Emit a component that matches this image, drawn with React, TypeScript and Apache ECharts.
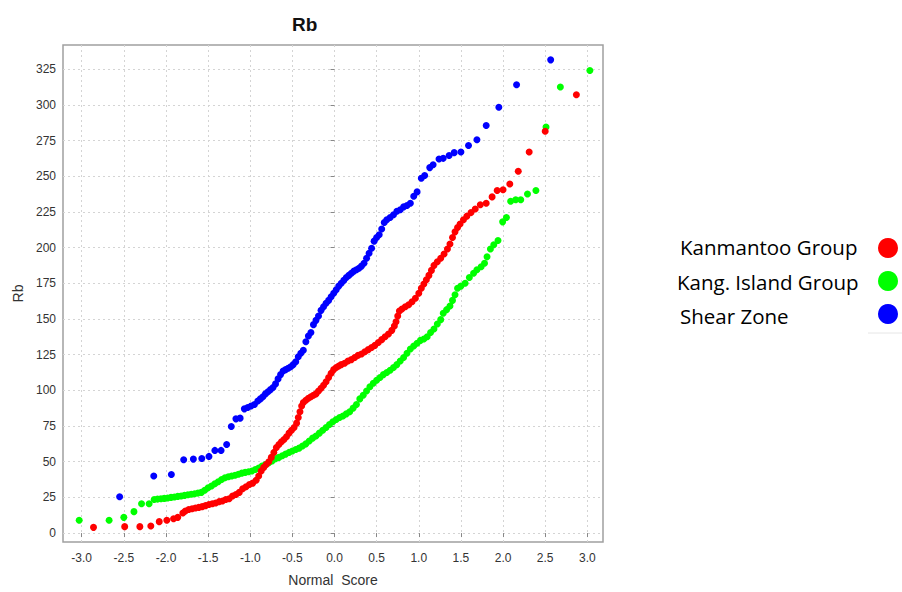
import React, { useEffect, useRef } from "react";
import * as echarts from "echarts";

const seriesNames = ["Kanmantoo Group", "Kang. Island Group", "Shear Zone"];
const seriesColors = ["#ff0000", "#00ff00", "#0000ff"];

const xTicks = [-3, -2.5, -2, -1.5, -1, -0.5, 0, 0.5, 1, 1.5, 2, 2.5, 3];
const yTicks = [0, 25, 50, 75, 100, 125, 150, 175, 200, 225, 250, 275, 300, 325];

// [normal score, Rb]
const kanmantoo: number[][] = [
  [-2.86, 4], [-2.49, 4.5], [-2.31, 4.5], [-2.18, 5], [-2.08, 8], [-1.99, 9], [-1.91, 10], [-1.86, 11],
  [-1.8, 14], [-1.77, 15.5], [-1.73, 16.5], [-1.69, 17], [-1.65, 17.5], [-1.61, 18], [-1.57, 18.5],
  [-1.53, 19.2], [-1.49, 20], [-1.45, 20.5], [-1.41, 21], [-1.37, 22], [-1.33, 22.5], [-1.29, 23.5],
  [-1.25, 24], [-1.21, 26], [-1.17, 27], [-1.13, 28.5], [-1.09, 31], [-1.05, 32.5], [-1.01, 34],
  [-0.97, 35], [-0.93, 37], [-0.9, 40], [-0.87, 43.5], [-0.84, 46], [-0.81, 48], [-0.78, 50],
  [-0.75, 53], [-0.72, 56.5], [-0.69, 60], [-0.66, 62], [-0.63, 64], [-0.6, 65.5], [-0.57, 67.5],
  [-0.54, 70], [-0.51, 72], [-0.48, 74], [-0.45, 77], [-0.43, 81], [-0.41, 85], [-0.39, 89],
  [-0.37, 91.5], [-0.34, 93], [-0.31, 94.5], [-0.28, 95.5], [-0.25, 96.5], [-0.22, 97.5],
  [-0.19, 99.5], [-0.16, 101.5], [-0.13, 103.5], [-0.1, 106], [-0.07, 109], [-0.04, 112],
  [-0.01, 114.5], [0.02, 116], [0.05, 117], [0.08, 118], [0.12, 119], [0.16, 120.5], [0.2, 121.5],
  [0.24, 123], [0.28, 124.5], [0.32, 125.5], [0.36, 127], [0.4, 128.5], [0.44, 130], [0.48, 131.5],
  [0.52, 133.5], [0.56, 135.5], [0.6, 137.5], [0.64, 139.5], [0.68, 142], [0.71, 145], [0.73, 148],
  [0.75, 152], [0.77, 155.5], [0.8, 157], [0.84, 158.5], [0.88, 160], [0.92, 162], [0.96, 164.5],
  [1.0, 168], [1.03, 171.5], [1.06, 174.5], [1.09, 177.5], [1.12, 180.5], [1.15, 184], [1.18, 187.5],
  [1.22, 190], [1.26, 192.5], [1.3, 195.5], [1.34, 199], [1.37, 202.5], [1.4, 207], [1.43, 211],
  [1.46, 214], [1.49, 216.5], [1.53, 219.5], [1.57, 222], [1.62, 224.5], [1.67, 227], [1.73, 230],
  [1.8, 231], [1.87, 235.5], [1.93, 240], [2.0, 240.5], [2.08, 244.5], [2.18, 253.5], [2.31, 267],
  [2.5, 281.5], [2.87, 307],
];

const kangIsland: number[][] = [
  [-3.03, 9], [-2.675, 9], [-2.5, 11], [-2.38, 15], [-2.29, 20.5], [-2.2, 20.5],
  [-2.14, 23.5], [-2.1, 23.8], [-2.06, 24], [-2.02, 24.3], [-1.98, 24.6], [-1.94, 25], [-1.9, 25.3],
  [-1.86, 25.7], [-1.82, 26], [-1.78, 26.4], [-1.74, 26.8], [-1.7, 27.2], [-1.66, 27.6], [-1.62, 28],
  [-1.58, 28.5], [-1.54, 30], [-1.5, 31.8], [-1.46, 33], [-1.42, 34.5], [-1.38, 36], [-1.34, 37.5],
  [-1.3, 38.8], [-1.26, 39.5], [-1.22, 40], [-1.18, 40.5], [-1.14, 41.2], [-1.1, 42], [-1.06, 42.5],
  [-1.02, 43], [-0.98, 43.5], [-0.94, 44.5], [-0.9, 45.5], [-0.86, 47], [-0.82, 48], [-0.78, 49.3],
  [-0.74, 50.5], [-0.7, 52], [-0.66, 53], [-0.62, 54.2], [-0.58, 55.3], [-0.54, 56.5], [-0.5, 57.5],
  [-0.46, 58.5], [-0.42, 59.5], [-0.38, 61], [-0.34, 62.5], [-0.3, 64.5], [-0.26, 66.5], [-0.22, 68],
  [-0.18, 70], [-0.14, 72], [-0.1, 74], [-0.06, 76], [-0.02, 78], [0.02, 79.5], [0.06, 81], [0.1, 82],
  [0.14, 83.5], [0.18, 85], [0.22, 87.5], [0.26, 90], [0.3, 94], [0.34, 96.5], [0.38, 99.5],
  [0.42, 102.5], [0.46, 105], [0.5, 107], [0.54, 109], [0.58, 111], [0.62, 112.5], [0.66, 114],
  [0.7, 116], [0.74, 118], [0.78, 120.5], [0.82, 123], [0.86, 126], [0.9, 129], [0.94, 131],
  [0.98, 133], [1.02, 135], [1.06, 136], [1.1, 137.5], [1.14, 140.5], [1.18, 143], [1.22, 146.5],
  [1.26, 149.5], [1.29, 154], [1.33, 156.5], [1.37, 159], [1.4, 163], [1.43, 167], [1.46, 171.5],
  [1.5, 173], [1.55, 175], [1.6, 179], [1.65, 182], [1.69, 184.5], [1.74, 186.5], [1.78, 189],
  [1.81, 193.5], [1.85, 199], [1.89, 202], [1.94, 205], [1.995, 218], [2.04, 221],
  [2.09, 232.5], [2.15, 233.5], [2.21, 233.5], [2.29, 237.5], [2.39, 240], [2.51, 284.5],
  [2.68, 312.5], [3.03, 324],
];

const shearZone: number[][] = [
  [-2.55, 25.5], [-2.145, 40], [-1.936, 41], [-1.79, 51.3], [-1.675, 51.8], [-1.575, 52.2],
  [-1.49, 53.7], [-1.42, 57.9], [-1.346, 57.9], [-1.28, 62], [-1.225, 74.6], [-1.17, 80],
  [-1.12, 80.5], [-1.07, 87], [-1.03, 88], [-0.99, 89], [-0.95, 90], [-0.91, 92.5], [-0.88, 94],
  [-0.85, 95.5], [-0.82, 97.5], [-0.79, 99], [-0.76, 100.5], [-0.73, 102], [-0.7, 104.5],
  [-0.67, 108], [-0.64, 111], [-0.61, 113.5], [-0.58, 114.5], [-0.55, 115.5], [-0.52, 116.5],
  [-0.49, 118], [-0.46, 120], [-0.43, 123.5], [-0.4, 126], [-0.37, 128], [-0.34, 134], [-0.31, 138],
  [-0.28, 140.5], [-0.25, 146], [-0.22, 149], [-0.19, 152], [-0.16, 156], [-0.13, 158.5],
  [-0.1, 161], [-0.07, 163], [-0.04, 165.5], [-0.01, 168], [0.02, 170.5], [0.05, 173], [0.08, 175],
  [0.11, 177], [0.14, 179], [0.17, 180.5], [0.2, 182], [0.23, 183.5], [0.26, 184.5], [0.29, 185.5],
  [0.32, 187], [0.35, 189], [0.38, 192.5], [0.41, 196], [0.44, 199.5], [0.47, 204.5], [0.5, 207],
  [0.53, 209], [0.56, 213], [0.59, 217.5], [0.62, 219.5], [0.66, 221], [0.7, 223], [0.74, 225.5],
  [0.78, 226.5], [0.82, 228.5], [0.86, 229.5], [0.9, 231], [0.94, 236], [0.98, 239], [1.03, 248.5],
  [1.07, 250.5], [1.13, 256], [1.17, 258], [1.24, 262], [1.29, 262.5], [1.36, 264.5], [1.42, 266.5],
  [1.5, 267], [1.59, 271.5], [1.69, 275.5], [1.8, 285.5], [1.95, 298.3], [2.16, 314], [2.565, 331.5],
];

const seriesData = [kanmantoo, kangIsland, shearZone];

export default function App() {
  const ref = useRef<HTMLDivElement>(null);
  useEffect(() => {
    if (!ref.current) return;
    const chart = echarts.init(ref.current, null, { renderer: "svg" });
    const axisFont = "'Liberation Sans', Arial, sans-serif";
    const legendY = [248, 281, 314];
    const legendTextY = [250, 285, 319];
    const legendTextX = [680, 677, 680];
    const order = [2, 1, 0];
    chart.setOption({
      animation: false,
      backgroundColor: "#ffffff",
      title: {
        text: "Rb",
        left: 287,
        top: 10,
        textStyle: { fontFamily: axisFont, fontSize: 19, fontWeight: "bold", color: "#111" },
      },
      grid: {
        left: 63,
        top: 45,
        width: 540,
        height: 500,
        show: true,
        borderColor: "#a0a0a0",
        borderWidth: 1.5,
        backgroundColor: "transparent",
      },
      xAxis: {
        type: "value",
        min: -3.222,
        max: 3.186,
        name: "Normal  Score",
        nameLocation: "middle",
        nameGap: 31,
        nameTextStyle: { fontFamily: axisFont, fontSize: 14, color: "#333" },
        axisLine: { show: false },
        axisTick: {
          show: true,
          length: 4,
          customValues: xTicks,
          lineStyle: { color: "#888" },
        },
        axisLabel: {
          customValues: xTicks,
          margin: 10,
          fontFamily: axisFont,
          fontSize: 12,
          color: "#333",
          formatter: (v: number) => v.toFixed(1),
        },
        splitLine: { show: true, lineStyle: { color: "#d4d4d4", type: [2, 3], width: 1 } },
      },
      yAxis: {
        type: "value",
        min: -6.26,
        max: 341.9,
        name: "Rb",
        nameLocation: "middle",
        nameGap: 35,
        nameTextStyle: { fontFamily: axisFont, fontSize: 14, color: "#333" },
        axisLine: { show: false },
        axisTick: {
          show: true,
          length: 4,
          customValues: yTicks,
          lineStyle: { color: "#888" },
        },
        axisLabel: {
          customValues: yTicks,
          margin: 7,
          fontFamily: axisFont,
          fontSize: 12,
          color: "#333",
        },
        splitLine: { show: true, lineStyle: { color: "#d4d4d4", type: [2, 3], width: 1 } },
      },
      series: order.map((i) => ({
        type: "scatter",
        name: seriesNames[i],
        data: seriesData[i],
        symbol: "circle",
        symbolSize: 7,
        clip: false,
        itemStyle: { color: seriesColors[i], opacity: 1 },
      })),
      graphic: [
        ...seriesNames.map((n, i) => ({
          type: "text",
          left: legendTextX[i],
          top: legendTextY[i] - 14,
          style: {
            text: n,
            fontFamily: "'Open Sans', sans-serif",
            fontSize: 20.5,
            fill: "#000",
          },
        })),
        ...seriesColors.map((c, i) => ({
          type: "circle",
          shape: { cx: 888, cy: legendY[i], r: 10 },
          style: { fill: c },
        })),
        {
          type: "line",
          shape: { x1: 868, y1: 333, x2: 902, y2: 333 },
          style: { stroke: "#e6e6e6", lineWidth: 1 },
        },
      ],
    });
    return () => chart.dispose();
  }, []);
  return (
    <div
      ref={ref}
      style={{ position: "absolute", left: 0, top: 0, width: 902, height: 592, background: "#fff" }}
    />
  );
}
